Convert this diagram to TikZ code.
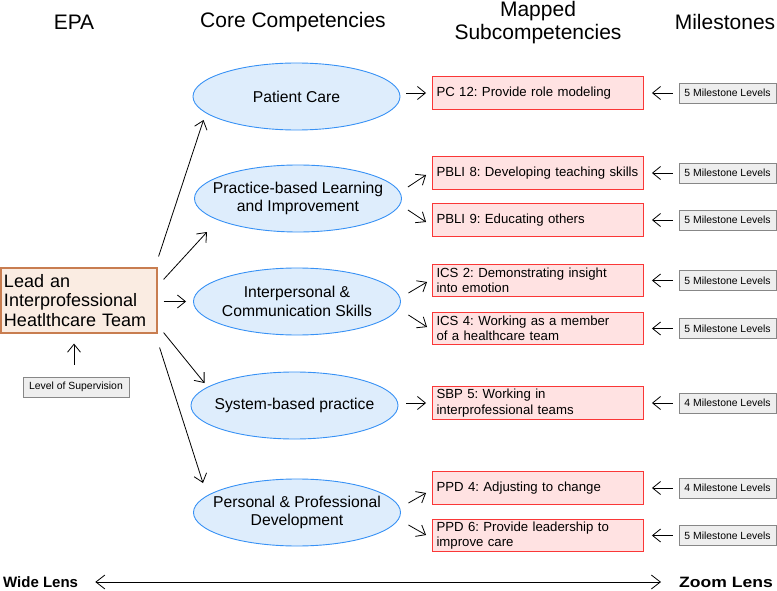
\documentclass[tikz,border=0pt]{standalone}
\usepackage{fontspec}
\setmainfont{Liberation Sans}
\usetikzlibrary{arrows.meta,shapes.geometric}
\definecolor{ellfill}{RGB}{222,237,252}
\definecolor{elldraw}{RGB}{55,145,245}
\definecolor{subfill}{RGB}{255,226,226}
\definecolor{subdraw}{RGB}{250,55,55}
\definecolor{epafill}{RGB}{250,236,226}
\definecolor{epadraw}{RGB}{200,125,80}
\definecolor{grayfill}{RGB}{238,238,238}
\definecolor{graydraw}{RGB}{135,135,135}
\frenchspacing
\begin{document}
\begin{tikzpicture}[x=1pt,y=-1pt,
  hdr/.style={font=\fontsize{21}{23}\selectfont, inner sep=0pt, align=center},
  compell/.style={ellipse, draw=elldraw, fill=ellfill, line width=0.9pt,
    minimum width=207pt, minimum height=67pt, inner xsep=-45pt, inner ysep=-12pt, align=center,
    font=\fontsize{15.7}{18.5}\selectfont},
  subbox/.style={rectangle, draw=subdraw, fill=subfill, line width=0.9pt,
    minimum width=211pt, minimum height=32.5pt, text width=203pt, inner xsep=4pt, inner ysep=0pt,
    align=left, font=\fontsize{13.2}{15.5}\selectfont},
  msbox/.style={rectangle, draw=graydraw, fill=grayfill, line width=0.8pt,
    minimum width=97pt, minimum height=20pt, inner sep=0pt,
    font=\fontsize{10.4}{12}\selectfont},
  epabox/.style={rectangle, draw=epadraw, fill=epafill, line width=1.2pt,
    minimum width=156pt, minimum height=65pt, text width=150pt, inner xsep=3pt, inner ysep=0pt,
    align=left, font=\fontsize{18}{19.5}\selectfont},
  lens/.style={font=\bfseries\fontsize{15}{17}\selectfont, inner sep=0pt},
  arr/.style={-{Straight Barb[length=8pt,width=13pt]}, line width=0.8pt},
  dblarr/.style={{Straight Barb[length=9pt,width=14pt]}-{Straight Barb[length=9pt,width=14pt]}, line width=0.8pt}
]
\useasboundingbox (0,0) rectangle (777,591);

% headers
\node[hdr] (hEPA) at (74,22) {EPA};
\node[hdr] (hCC) at (293,22) {Core Competencies};
\node[hdr] (hMS) at (538,22.5) {Mapped\\Subcompetencies};
\node[hdr] (hMI) at (725,22) {Milestones};

% EPA
\node[epabox] (epa) at (79,300.5) {Lead an\\Interprofessional\\Heatlthcare Team};
\node[msbox, minimum width=106pt] (los) at (76,387) {Level of Supervision};

% core competencies
\node[compell] (e1) at (296.5,96.5) {Patient Care};
\node[compell] (e2) at (298,198.5) {Practice-based Learning\\and Improvement};
\node[compell] (e3) at (297,301.5) {Interpersonal \&\\Communication Skills};
\node[compell] (e4) at (294.5,405.5) {System-based practice};
\node[compell] (e5) at (297,512.5) {Personal \& Professional\\Development};

% subcompetencies
\node[subbox] (s1) at (538,93) {PC 12: Provide role modeling};
\node[subbox] (s2) at (538,173) {PBLI 8: Developing teaching skills};
\node[subbox] (s3) at (538,220) {PBLI 9: Educating others};
\node[subbox] (s4) at (538,280.5) {ICS 2: Demonstrating insight\\into emotion};
\node[subbox] (s5) at (538,328.5) {ICS 4: Working as a member\\of a healthcare team};
\node[subbox] (s6) at (538,403) {SBP 5: Working in\\interprofessional teams};
\node[subbox] (s7) at (538,488) {PPD 4: Adjusting to change};
\node[subbox] (s8) at (538,535.5) {PPD 6: Provide leadership to\\improve care};

% milestones
\node[msbox] (m1) at (727.5,93) {5 Milestone Levels};
\node[msbox] (m2) at (727.5,173) {5 Milestone Levels};
\node[msbox] (m3) at (727.5,220) {5 Milestone Levels};
\node[msbox] (m4) at (727.5,280.5) {5 Milestone Levels};
\node[msbox] (m5) at (727.5,328.5) {5 Milestone Levels};
\node[msbox] (m6) at (727.5,403) {4 Milestone Levels};
\node[msbox] (m7) at (727.5,488) {4 Milestone Levels};
\node[msbox] (m8) at (727.5,535.5) {5 Milestone Levels};

% bottom lens labels
\node[lens, anchor=west] (wl) at (3,582) {Wide Lens};
\node[lens, anchor=east] (zl) at (773,582) {\scalebox{1.17}[1]{Zoom Lens}};

% EPA -> competencies
\draw[arr] ([shift={(1,-11)}]epa.north east) -- ([shift={(-93,23.5)}]e1.center);
\draw[arr] ([shift={(6,12)}]epa.north east) -- ([shift={(-91,33.5)}]e2.center);
\draw[arr] ([shift={(6,1)}]epa.east) -- ([shift={(-7,0)}]e3.west);
\draw[arr] ([shift={(6,-1)}]epa.south east) -- ([shift={(-90,-22.5)}]e4.center);
\draw[arr] ([shift={(2,14)}]epa.south east) -- ([shift={(-94,-29.5)}]e5.center);

% supervision -> EPA
\draw[arr] ([shift={(-2,-12)}]los.north) -- ([shift={(-5,10)}]epa.south);

% competencies -> subcompetencies
\draw[arr] ([shift={(6,-3.5)}]e1.east) -- ([shift={(-6,0)}]s1.west);
\draw[arr] ([shift={(6,-11.5)}]e2.east) -- ([shift={(-6,2)}]s2.west);
\draw[arr] ([shift={(6,11.5)}]e2.east) -- ([shift={(-6,2)}]s3.west);
\draw[arr] ([shift={(7.5,-8.5)}]e3.east) -- ([shift={(-5,1.5)}]s4.west);
\draw[arr] ([shift={(7.5,13.5)}]e3.east) -- ([shift={(-5,-1.5)}]s5.west);
\draw[arr] ([shift={(8,-2.5)}]e4.east) -- ([shift={(-6,0)}]s6.west);
\draw[arr] ([shift={(7.5,-9.5)}]e5.east) -- ([shift={(-6,5)}]s7.west);
\draw[arr] ([shift={(7.5,12.5)}]e5.east) -- ([shift={(-6,-0.5)}]s8.west);

% milestones -> subcompetencies
\foreach \i in {1,...,8}{
  \draw[arr] ([xshift=-6pt]m\i.west) -- ([xshift=8pt]s\i.east);
}

% lens arrow
\draw[dblarr] ([xshift=17pt]wl.east) -- ([xshift=-18pt]zl.west);
\end{tikzpicture}
\end{document}
